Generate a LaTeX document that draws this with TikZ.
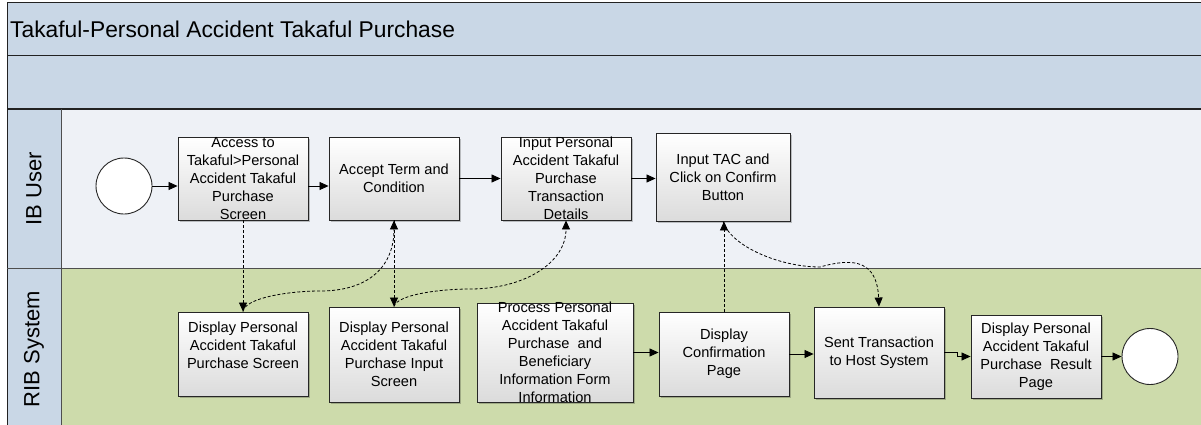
\documentclass[tikz,border=0pt]{standalone}
\usepackage{fontspec}
\setmainfont{Liberation Sans}
\usetikzlibrary{arrows.meta,shadows,calc}
\definecolor{hdr}{HTML}{C9D7E6}
\definecolor{iblane}{HTML}{EEF1F6}
\definecolor{riblane}{HTML}{CDDBAB}
\definecolor{frameline}{HTML}{222222}
\tikzset{
  stepbox/.style={draw=black!85, line width=0.9pt, top color=white, bottom color=black!14,
    inner sep=0pt, drop shadow={shadow xshift=1.5pt, shadow yshift=-2pt, fill=black, opacity=0.22}},
  boxtext/.style={font=\fontsize{14.6}{18}\selectfont, align=center, inner sep=0pt, text=black},
  evt/.style={circle, draw=black!85, line width=0.9pt, fill=white, minimum size=56pt, inner sep=0pt},
  lanelabel/.style={rotate=90, font=\fontsize{22}{26}\selectfont, inner sep=0pt},
  flow/.style={line width=0.8pt, -{Triangle[length=9pt,width=8pt]}},
  msg/.style={line width=0.8pt, dash pattern=on 3pt off 2pt, -{Triangle[length=9pt,width=8pt]}},
}
\begin{document}
\begin{tikzpicture}[x=1pt,y=-1pt]
\useasboundingbox (0,0) rectangle (1201,425);
% backgrounds
\fill[hdr] (7,3) rectangle (1201,109);
\fill[iblane] (61,109) rectangle (1201,268);
\fill[riblane] (61,268) rectangle (1201,425);
\fill[hdr] (7,109) rectangle (61,425);
% frame lines
\draw[frameline, line width=1pt] (1201,3) -- (7,3) -- (7,425);
\draw[frameline, line width=1pt] (7,56) -- (1201,56);
\draw[frameline, line width=1.8pt] (7,109) -- (1201,109);
\draw[frameline!80, line width=1pt] (61,109) -- (61,425);
\draw[frameline!80, line width=1pt] (7,268) -- (1201,268);
% title and lane labels
\node[anchor=west, inner sep=0pt, font=\fontsize{22.8}{27}\selectfont] (title) at (10,29.5) {Takaful-Personal Accident Takaful Purchase};
\node[lanelabel] (l1) at (34,188.5) {IB User};
\node[lanelabel] (l2) at (34,349) {RIB System};
% events
\node[evt] (s) at (124,186) {};
\node[evt] (e) at (1150,356.5) {};
% boxes IB lane
\node[stepbox, minimum width=130pt, minimum height=83pt] (b1) at (243,178.5) {};
\node[stepbox, minimum width=130pt, minimum height=83pt] (b2) at (394,178.5) {};
\node[stepbox, minimum width=130pt, minimum height=83pt] (b3) at (566,178.5) {};
\node[stepbox, minimum width=134pt, minimum height=88pt] (b4) at (723,177) {};
% boxes RIB lane
\node[stepbox, minimum width=130pt, minimum height=84pt] (b5) at (243,354) {};
\node[stepbox, minimum width=130pt, minimum height=95pt] (b6) at (394,354.5) {};
\node[stepbox, minimum width=156pt, minimum height=99pt] (b7) at (555,352.5) {};
\node[stepbox, minimum width=130pt, minimum height=84pt] (b8) at (724,354) {};
\node[stepbox, minimum width=130pt, minimum height=91pt] (b9) at (879,352.5) {};
\node[stepbox, minimum width=130pt, minimum height=83pt] (b10) at (1036,356.5) {};
% texts
\node[boxtext] (t1) at (b1) {Access to\\Takaful>Personal\\Accident Takaful\\Purchase\\Screen};
\node[boxtext] (t2) at (b2) {Accept Term and\\Condition};
\node[boxtext] (t3) at (b3) {Input Personal\\Accident Takaful\\Purchase\\Transaction\\Details};
\node[boxtext] (t4) at (b4) {Input TAC and\\Click on Confirm\\Button};
\node[boxtext] (t5) at ($(b5)+(0,-8.5)$) {Display Personal\\Accident Takaful\\Purchase Screen};
\node[boxtext] (t6) at (b6) {Display Personal\\Accident Takaful\\Purchase Input\\Screen};
\node[boxtext] (t7) at (b7) {Process Personal\\Accident Takaful\\Purchase\ \ and\\Beneficiary\\Information Form\\Information};
\node[boxtext] (t8) at (b8) {Display\\Confirmation\\Page};
\node[boxtext] (t9) at (b9) {Sent Transaction\\to Host System};
\node[boxtext] (t10) at (b10) {Display Personal\\Accident Takaful\\Purchase\ \ Result\\Page};
% sequence flows
\draw[flow] (s) -- (b1.west |- s);
\draw[flow] (b1.east |- s) -- (b2.west |- s);
\draw[flow] (b2.east) -- (b3.west);
\draw[flow] (b3.east) -- (b4.west |- b3.east);
\draw[flow] (b7.east) -- (b8.west |- b7.east);
\draw[flow] (b8.east) -- (b9.west |- b8.east);
\draw[flow] (b9.east) -- ++(13,0) |- (b10.west);
\draw[flow] (b10.east) -- (e);
% message flows
\draw[msg] (b1.south) -- (b5.north);
\draw[msg] (b5.north) .. controls +(2,-14) and +(-30,0) .. (320,291) .. controls +(50,0) and +(0,45) .. (b2.south);
\draw[msg] (b2.south) -- (b6.north);
\draw[msg] (b6.north) .. controls +(3,-12) and +(-30,0) .. (470,289) .. controls +(55,0) and +(0,42) .. (b3.south);
\draw[msg] (b8.north) -- (b4.south -| b8.north);
\draw[msg] (b4.south) .. controls +(8,25) and +(-40,0) .. (820,267) .. controls +(35,-10) and +(-2,-45) .. (b9.north);
\end{tikzpicture}
\end{document}
